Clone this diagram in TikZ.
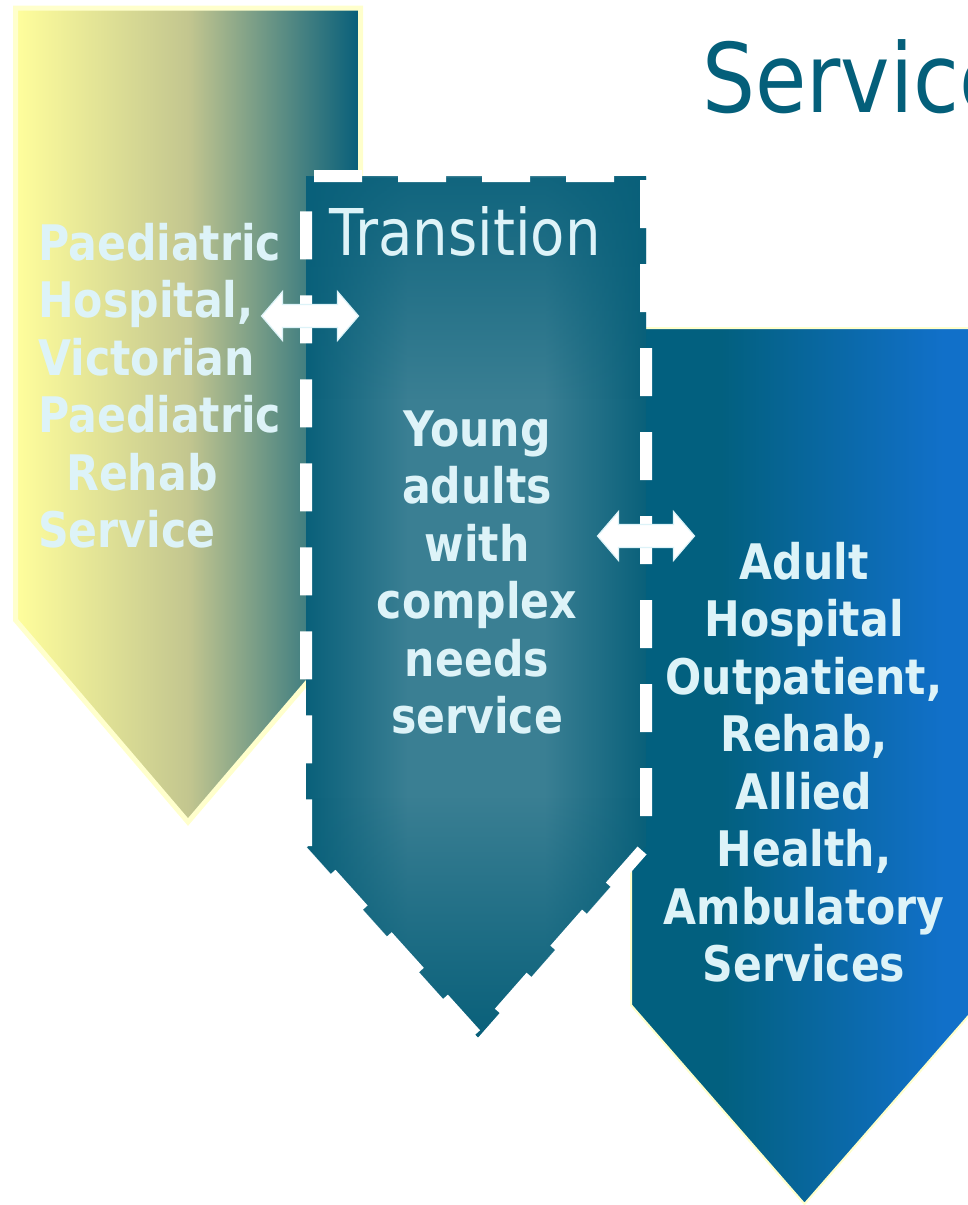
\documentclass[tikz,border=0pt]{standalone}
\usepackage{fontspec}
\usetikzlibrary{fadings}
\newfontfamily\tahoma[FakeStretch=0.87]{DejaVu Sans}
\definecolor{txtc}{HTML}{DDF3F8}
\definecolor{titlec}{HTML}{045F7A}
\definecolor{paleY}{HTML}{FFFFCC}
\definecolor{yelL}{HTML}{FFFE9C}
\definecolor{yelM}{HTML}{C3C68F}
\definecolor{tealD}{HTML}{065E7A}
\definecolor{adL}{HTML}{02607F}
\definecolor{adR}{HTML}{1170C9}
\definecolor{trIn}{HTML}{3A7F93}
\definecolor{trOut}{HTML}{09607A}
\pgfdeclarehorizontalshading{adultshade}{100bp}{color(0bp)=(adL); color(38bp)=(adL); color(70bp)=(adR); color(100bp)=(adR)}
\pgfdeclarehorizontalshading{transshade}{100bp}{color(0bp)=(trOut); color(25bp)=(trOut); color(40bp)=(trIn); color(60bp)=(trIn); color(75bp)=(trOut); color(100bp)=(trOut)}
\pgfdeclareverticalshading{vfadesh}{100bp}{color(0bp)=(white); color(25bp)=(white); color(39bp)=(black); color(62bp)=(black); color(75bp)=(white!85!black); color(100bp)=(white!85!black)}
\pgfdeclarefading{vfade}{\pgfuseshading{vfadesh}}
\tikzset{
  btxt/.style={inner sep=0pt, text=txtc, font=\tahoma\bfseries\fontsize{49}{57.5}\selectfont},
  dbl/.pic={\path[draw=txtc, fill=white, line width=1.2pt]
    (-48.5,0) -- (-27.5,-24.5) -- (-27.5,-11.5) -- (27.5,-11.5) -- (27.5,-24.5) -- (48.5,0)
    -- (27.5,24.5) -- (27.5,11.5) -- (-27.5,11.5) -- (-27.5,24.5) -- cycle;}
}
\begin{document}
\begin{tikzpicture}[x=1pt, y=-1pt]
\useasboundingbox (0,0) rectangle (968,1205);
\clip (0,0) rectangle (968,1205);
% paediatric
\path[draw=paleY, line width=5pt, left color=yelL, right color=tealD, middle color=yelM]
  (15.5,8) -- (360.5,8) -- (360.5,620) -- (188,822) -- (15.5,620) -- cycle;
% adult
\path[draw=paleY, line width=2pt, shading=adultshade]
  (631,328) -- (978,328) -- (978,1005) -- (804.5,1204) -- (631,1005) -- cycle;
% transition
\path[shading=transshade]
  (306,176) -- (646,176) -- (646,846) -- (478,1037) -- (306,846) -- cycle;
\path[fill=trOut, path fading=vfade, fit fading=true]
  (306,176) -- (646,176) -- (646,846) -- (478,1037) -- (306,846) -- cycle;
\path[draw=white, line width=12pt, dash pattern=on 48pt off 36pt, dash phase=76pt]
  (306,176) -- (646,176) -- (646,846) -- (478,1037) -- (306,846) -- cycle;
% title
\node[anchor=base west, inner sep=0pt, text=titlec, font=\tahoma\fontsize{96}{96}\selectfont] (title) at (702,112) {Services};
\node[anchor=base west, inner sep=0pt, text=txtc, font=\tahoma\fontsize{64.5}{64.5}\selectfont] (trans) at (329,255) {Transition};
% texts
\foreach \x/\t [count=\i from 0] in {38/Paediatric, 38/{Hospital,}, 38/Victorian, 38/Paediatric, 66/Rehab, 38/Service}
  \node[btxt, anchor=base west] (ped\i) at (\x, {260+57.5*\i}) {\t};
\foreach \t [count=\i from 0] in {Young, adults, with, complex, needs, service}
  \node[btxt, anchor=base] (mid\i) at (477, {446+57.5*\i}) {\t};
\foreach \t [count=\i from 0] in {Adult, Hospital, {Outpatient,}, {Rehab,}, Allied, {Health,}, Ambulatory, Services}
  \node[btxt, anchor=base] (ad\i) at (804, {579+57.5*\i}) {\t};
% arrows
\pic (arrL) at (310,316) {dbl};
\pic (arrR) at (646,536) {dbl};
\end{tikzpicture}
\end{document}
